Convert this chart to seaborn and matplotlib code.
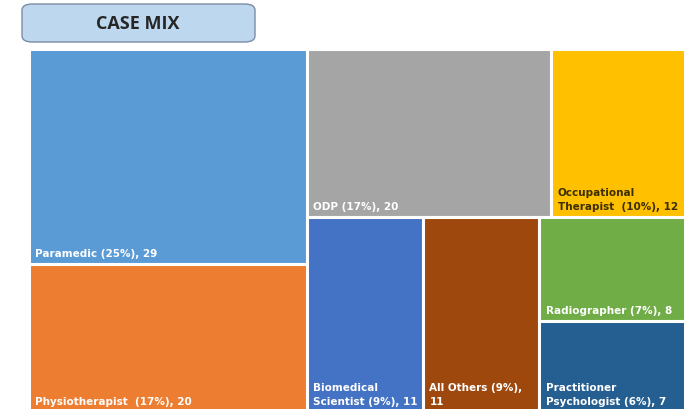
import matplotlib
matplotlib.use("Agg")
import matplotlib.pyplot as plt
from matplotlib.patches import Rectangle, FancyBboxPatch
import seaborn as sns

# case mix data
names = ["Paramedic", "Physiotherapist", "ODP", "Occupational\nTherapist",
         "Biomedical\nScientist", "All Others ", "Radiographer", "Practitioner\nPsychologist"]
counts = [29, 20, 20, 12, 11, 11, 8, 7]
colors = ["#5B9BD5", "#ED7D31", "#A5A5A5", "#FFC000",
          "#4472C4", "#9E480E", "#70AD47", "#255E91"]
text_colors = ["white", "white", "white", "#3B2F00",
               "white", "white", "white", "white"]
# how labels wrap "(pct), n" onto the name
label_sep = [" ", "  ", " ", "  ", " ", "", " ", " "]
value_sep = [" ", " ", " ", " ", " ", "\n", " ", " "]

# nesting of the treemap (indices into the lists above), splits alternate
tree = [[0, 1], [[2, 3], [4, 5, [6, 7]]]]


def total(node):
    if isinstance(node, int):
        return counts[node]
    return sum(total(n) for n in node)


def layout(node, x, y, w, h, horizontal, out):
    if isinstance(node, int):
        out[node] = (x, y, w, h)
        return
    s = total(node)
    pos = 0.0
    for child in node:
        f = total(child) / s
        if horizontal:
            layout(child, x + pos * w, y, w * f, h, not horizontal, out)
        else:
            layout(child, x, y + pos * h, w, h * f, not horizontal, out)
        pos += f


sns.set_theme(style="white")
plt.rcParams["font.family"] = ["DejaVu Sans"]

fig = plt.figure(figsize=(6.84, 4.10), dpi=100)
ax = fig.add_axes([29 / 684, -3 / 410, 669 / 684, 363 / 410])
ax.set_xlim(0, 1)
ax.set_ylim(1, 0)
ax.axis("off")

rects = {}
layout(tree, 0, 0, 1, 1, True, rects)
grand = sum(counts)

for i, (x, y, w, h) in rects.items():
    ax.add_patch(Rectangle((x, y), w, h, facecolor=colors[i],
                           edgecolor="white", linewidth=2.2))
    pct = round(100 * counts[i] / grand)
    label = f"{names[i]}{label_sep[i]}({pct}%),{value_sep[i]}{counts[i]}"
    ax.annotate(label, (x, y + h), xytext=(4.5, 4.5), textcoords="offset points",
                ha="left", va="bottom", fontsize=7.5, fontweight="bold",
                color=text_colors[i], linespacing=1.45)

# title box
box = FancyBboxPatch((22 / 684, 1 - 43 / 410), 233 / 684, 38 / 410,
                     boxstyle="round,pad=0,rounding_size=0.015",
                     transform=fig.transFigure, facecolor="#BDD7EE",
                     edgecolor="#7C8CA3", linewidth=1.0)
fig.patches.append(box)
fig.text(138 / 684, 1 - 24 / 410, "CASE MIX", ha="center", va="center",
         fontsize=13, fontweight="bold", color="#262626",
         family=["Open Sans", "DejaVu Sans"])

fig.savefig("out.png", dpi=100)
